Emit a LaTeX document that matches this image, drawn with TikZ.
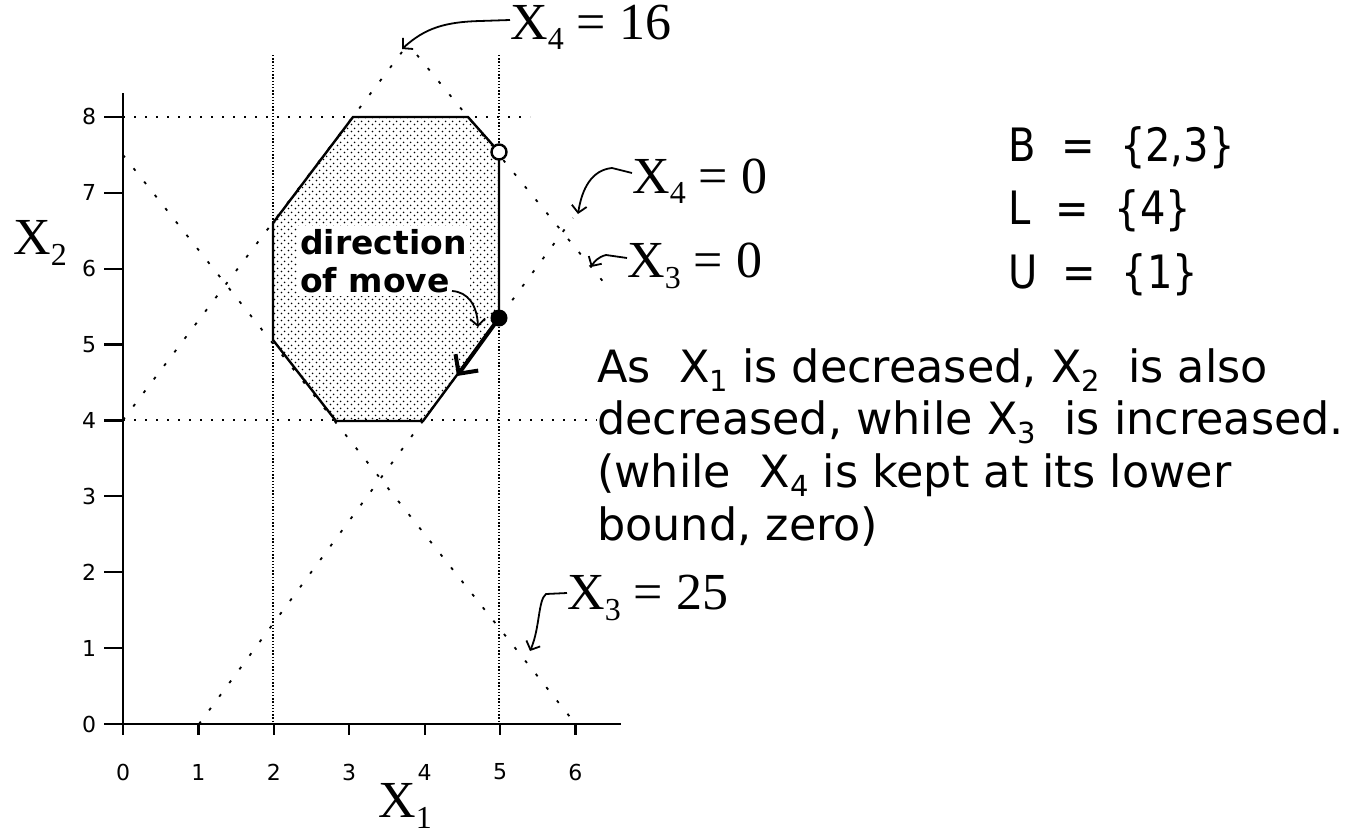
\documentclass[tikz,border=0pt]{standalone}
\usepackage{fontspec}
\setmainfont{Liberation Serif}
\newfontfamily\genevafont{DejaVu Sans}
\newfontfamily\setsfont[FakeStretch=0.87]{DejaVu Sans}
\usetikzlibrary{arrows.meta,patterns}
\pgfdeclarepatternformonly{octdots}{\pgfpointorigin}{\pgfpoint{7pt}{7pt}}{\pgfpoint{7pt}{7pt}}{%
  \pgfpathcircle{\pgfpoint{1.75pt}{1.75pt}}{1.0pt}%
  \pgfpathcircle{\pgfpoint{5.25pt}{5.25pt}}{1.0pt}%
  \pgfusepath{fill}}
\newcommand\serX[1]{X\raisebox{-0.2em}{\fontsize{32}{32}\selectfont #1}}
\newcommand\genX[1]{X\raisebox{-0.22em}{\fontsize{29}{29}\selectfont #1}}
\begin{document}
\begin{tikzpicture}[x=1pt,y=-1pt,
  axisline/.style={line width=2.4pt},
  tickline/.style={line width=2.2pt},
  vdot/.style={line width=1.4pt, dash pattern=on 1.4pt off 1.8pt},
  hdot/.style={line width=2pt, dash pattern=on 2pt off 9pt},
  ddot/.style={line width=1.8pt, dash pattern=on 3pt off 14pt},
  octedge/.style={line width=2.4pt, line join=miter},
  lbl/.style={line width=1.8pt, -{Straight Barb[length=7pt,width=15pt,line width=1.8pt]}},
  serlab/.style={font=\fontsize{52}{52}\selectfont, inner sep=0pt},
  ticklab/.style={font=\genevafont\fontsize{22}{22}\selectfont, inner sep=0pt},
  blk/.style={font=\genevafont\fontsize{44.5}{44.5}\selectfont, inner sep=0pt, anchor=base west},
  setlab/.style={font=\setsfont\fontsize{46}{46}\selectfont, inner sep=0pt, anchor=base west},
]
\useasboundingbox (0,0) rectangle (1352,833);

% feasible region
\path[pattern=octdots] (273,223) -- (353,117) -- (468,117) -- (499,152) -- (499,318) -- (423,421) -- (336,421) -- (273,340) -- cycle;

% dotted guide lines
\draw[vdot] (273,55) -- (273,724);
\draw[vdot] (499,55) -- (499,724);
\draw[hdot] (123,117) -- (530,117);
\draw[hdot] (123,420) -- (597,420);
\draw[ddot] (123,420) -- (402,52);
\draw[ddot] (417,55) -- (610,290);
\draw[ddot] (199,724) -- (573,218);
\draw[ddot] (123,155) -- (574,722);

% octagon boundary
\draw[octedge] (273,340) -- (273,223) -- (353,117) -- (468,117) -- (499,152) -- (499,318) -- (423,421) -- (336,421) -- cycle;

% axes
\draw[axisline] (107,724) -- (621,724);
\draw[axisline] (123,93) -- (123,735);
\foreach \i in {0,...,6}{
  \draw[tickline] ({123+75.4*\i},724) -- ({123+75.4*\i},735);
  \node[ticklab] (xt\i) at ({123+75.4*\i},772) {\i};
}
\foreach \j in {0,...,8}{
  \draw[tickline] (104,{724-75.9*\j}) -- (123,{724-75.9*\j});
  \node[ticklab] (yt\j) at (89,{724-75.9*\j}) {\j};
}
\node[serlab] (ax1) at (405,806) {\serX{1}};
\node[serlab] (ax2) at (40,243) {\serX{2}};

% points
\node[circle, draw, line width=2.4pt, fill=white, minimum size=15pt, inner sep=0pt] (hollow) at (499,152) {};
\node[circle, fill=black, minimum size=17pt, inner sep=0pt] (solid) at (499,318) {};
\coordinate (movetip) at (457,376);
\draw[line width=4pt, -{Straight Barb[length=14pt,width=28pt,line width=4pt]}] (solid.center) -- (movetip);

% direction of move
\node[fill=white, inner sep=3pt, align=left, font=\genevafont\bfseries\fontsize{33}{38}\selectfont, anchor=north west] (dir) at (297,226) {direction\\of move};
\coordinate (dirtip) at (478,327);
\draw[lbl] (452,291) .. controls (468,292) and (477,305) .. (dirtip);

% constraint labels
\node[serlab, anchor=west] (l16) at (510,27) {\serX{4} = 16};
\node[serlab, anchor=west] (l40) at (632,181) {\serX{4} = 0};
\node[serlab, anchor=west] (l30) at (627,266) {\serX{3} = 0};
\node[serlab, anchor=west] (l25) at (567,598) {\serX{3} = 25};
\coordinate (t16) at (402,49);
\coordinate (t40) at (578,214);
\coordinate (t30) at (591,267);
\coordinate (t25) at (530,651);
\draw[lbl] (l16.west |- 0,20) -- (480,21) .. controls (445,22) and (425,28) .. (t16);
\draw[lbl] (l40.west |- 0,173) -- (612,168) .. controls (592,170) and (582,188) .. (t40);
\draw[lbl] (l30.west |- 0,258) -- (606,255) .. controls (598,257) and (594,262) .. (t30);
\draw[lbl] (l25.west |- 0,593) -- (546,594) .. controls (538,600) and (540,628) .. (t25);

% sets
\node[setlab] (sB) at (1008,161) {B\ \ =\ \ \{2,3\}};
\node[setlab] (sL) at (1008,224) {L\ \ =\ \ \{4\}};
\node[setlab] (sU) at (1008,288) {U\ \ =\ \ \{1\}};

% explanation
\node[blk] (e1) at (597,382) {As\ \ \genX{1} is decreased, \genX{2}\ \ is also};
\node[blk] (e2) at (597,434) {decreased, while \genX{3}\ \ is increased.};
\node[blk] (e3) at (597,487) {(while\ \ \genX{4} is kept at its lower};
\node[blk] (e4) at (597,540) {bound, zero)};
\end{tikzpicture}
\end{document}
